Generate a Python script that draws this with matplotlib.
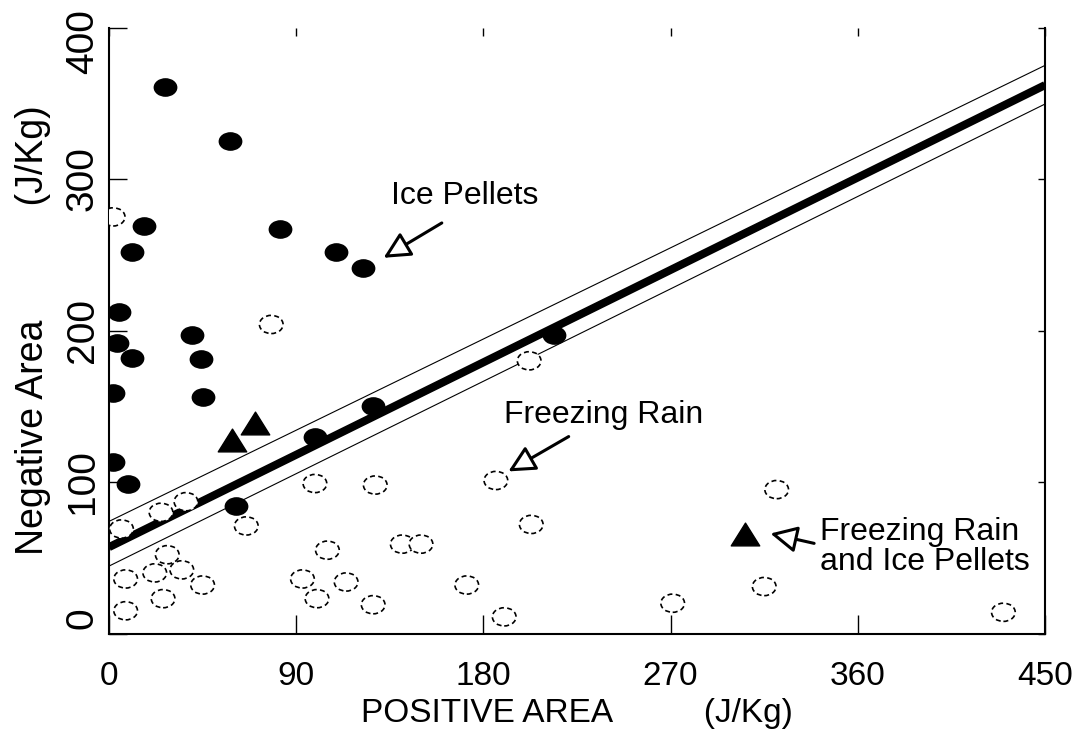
import numpy as np
import matplotlib
matplotlib.use("Agg")
import matplotlib.pyplot as plt
from matplotlib.path import Path
from matplotlib.transforms import Affine2D, ScaledTranslation

plt.rcParams['font.family'] = ['Liberation Sans', 'DejaVu Sans']

# ice pellets (filled circles)
ice_x = [27, 58, 17, 82, 11, 109, 122, 5, 40, 4, 214, 11, 44, 2, 45, 99, 127, 2, 9, 61]
ice_y = [361, 325, 269, 267, 252, 252, 241, 212, 197, 192, 197, 182, 181, 159, 156, 130, 150, 113, 99, 84]

# freezing rain (open circles)
frz_x = [2, 78, 202, 99, 128, 186, 321, 25, 37, 203, 6, 66, 141, 150, 105, 28,
         22, 35, 8, 93, 114, 45, 172, 315, 26, 100, 127, 271, 8, 190, 430]
frz_y = [275, 204, 180, 99, 98, 101, 95, 80, 87, 72, 69, 71, 59, 59, 55, 52,
         40, 42, 36, 36, 34, 32, 32, 31, 23, 23, 19, 20, 15, 11, 14]

# freezing rain and ice pellets (triangles)
mix_x = [59, 70, 306]
mix_y = [128, 139, 66]

# fitted line and band
fit_x = [0, 450]
fit_y = [57, 362]
upper_y = [74, 375]
lower_y = [44.5, 349.5]

xticks = [0, 90, 180, 270, 360, 450]
yticks = [0, 100, 200, 300, 400]

# wide ellipse and flat triangle markers
ell = Path.unit_circle().transformed(Affine2D().scale(1.0, 0.77))
tri = Path([(-1, -0.8), (1, -0.8), (0, 0.8), (-1, -0.8)],
           [Path.MOVETO, Path.LINETO, Path.LINETO, Path.CLOSEPOLY])

fig = plt.figure(figsize=(10.74, 7.46), dpi=100)
ax = fig.add_axes([0.1015, 0.1508, 0.8715, 0.8123])

ax.plot(fit_x, fit_y, color='black', lw=5.8, solid_capstyle='butt', zorder=2)
ax.plot(fit_x, upper_y, color='black', lw=0.8, zorder=2)
ax.plot(fit_x, lower_y, color='black', lw=0.8, zorder=2)

ax.scatter(frz_x, frz_y, marker=ell, s=290, facecolors='white', edgecolors='black',
           linewidths=1.2, linestyles=(0, (3, 2)), zorder=3)
ax.scatter(ice_x, ice_y, marker=ell, s=260, color='black', zorder=4)
ax.scatter(mix_x, mix_y, marker=tri, s=420, color='black', zorder=4)

arrow = dict(arrowstyle='-|>,head_length=0.9,head_width=0.45', lw=2.2,
             fc='white', ec='black', mutation_scale=18, shrinkA=0, shrinkB=0)
ax.annotate('', xy=(132, 248), xytext=(160, 271), arrowprops=arrow, zorder=5)
ax.annotate('', xy=(192, 107), xytext=(221, 130), arrowprops=arrow, zorder=5)
ax.annotate('', xy=(318, 66), xytext=(339, 59.5), arrowprops=arrow, zorder=5)

ax.text(171, 289, 'Ice Pellets', fontsize=23, ha='center', va='center')
ax.text(238, 144, 'Freezing Rain', fontsize=23, ha='center', va='center')
ax.text(342, 57, 'Freezing Rain\nand Ice Pellets', fontsize=23, ha='left',
        va='center', linespacing=1.0)

ax.set_xlim(0, 450)
ax.set_ylim(0, 400)
ax.set_xticks(xticks)
ax.set_yticks(yticks)
ax.set_yticklabels([str(v) for v in yticks], rotation=90, va='center')

ax.spines['top'].set_visible(False)
for s in ['left', 'bottom', 'right']:
    ax.spines[s].set_linewidth(1.5)

ax.tick_params(axis='x', direction='in', length=14, width=1, labelsize=24, pad=20, top=True)
ax.tick_params(axis='y', direction='in', length=13, width=1, labelsize=28, pad=6, right=True)
for t in ax.xaxis.get_major_ticks():
    t.tick2line.set_markersize(6)
for t in ax.yaxis.get_major_ticks():
    t.tick2line.set_markersize(5)

# end labels sit a little inside the axis in the original
labs = ax.get_yticklabels()
labs[0].set_transform(labs[0].get_transform() + ScaledTranslation(0, 15 / 100, fig.dpi_scale_trans))
labs[-1].set_transform(labs[-1].get_transform() + ScaledTranslation(0, -14 / 100, fig.dpi_scale_trans))

ax.set_xlabel('POSITIVE AREA          (J/Kg)', fontsize=24, labelpad=4)
ax.set_ylabel('Negative Area           (J/Kg)', fontsize=27, labelpad=10)

fig.savefig('out.png', dpi=100)
